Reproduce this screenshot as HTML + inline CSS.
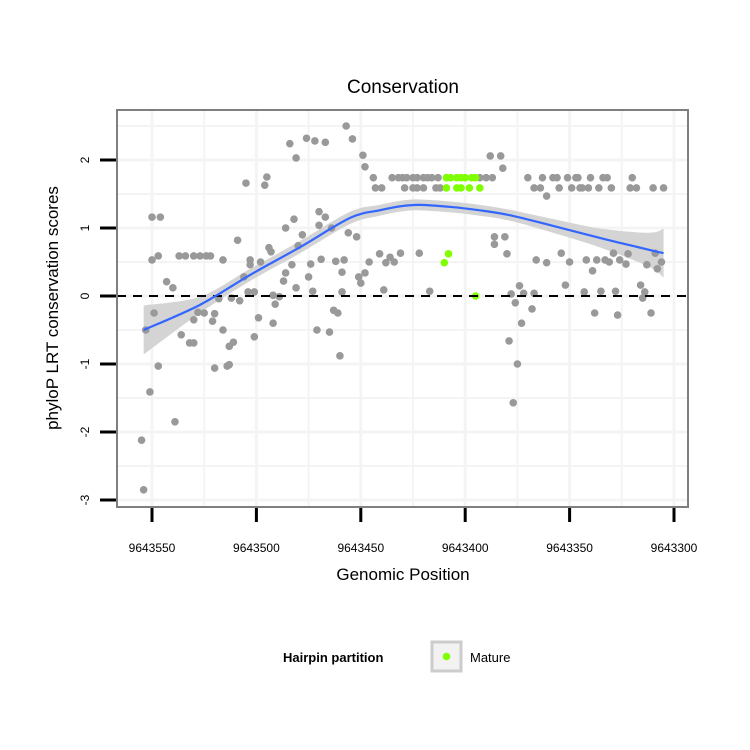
<!DOCTYPE html>
<html><head><meta charset="utf-8"><style>
body{margin:0;background:#fff}
svg{display:block;font-family:"Liberation Sans",sans-serif}
</style></head><body>
<svg id="chart" width="750" height="750"></svg>
<script>
const grayPos=[9643550,9643546,9643550,9643547,9643537,9643534,9643530,9643527,9643524,9643522,9643516,9643543,9643540,9643549,9643553,9643536,9643532,9643530,9643547,9643551,9643539,9643555,9643554,9643528,9643525,9643520,9643530,9643521,9643518,9643516,9643512,9643508,9643513,9643511,9643520,9643514,9643513,9643501,9643499,9643492,9643504,9643501,9643506,9643509,9643503,9643503,9643498,9643494,9643493,9643505,9643496,9643495,9643492,9643489,9643491,9643487,9643486,9643483,9643481,9643486,9643482,9643478,9643480,9643475,9643474,9643473,9643471,9643465,9643463,9643461,9643460,9643469,9643462,9643459,9643459,9643458,9643470,9643467,9643470,9643464,9643456,9643452,9643451,9643448,9643450,9643446,9643441,9643439,9643438,9643436,9643434,9643431,9643484,9643481,9643476,9643472,9643467,9643457,9643454,9643449,9643448,9643444,9643443,9643440,9643435,9643432,9643430,9643428,9643425,9643423,9643420,9643418,9643416,9643413,9643429,9643393,9643390,9643387,9643370,9643363,9643358,9643356,9643351,9643347,9643346,9643340,9643334,9643332,9643320,9643425,9643423,9643420,9643414,9643412,9643367,9643364,9643355,9643349,9643345,9643344,9643341,9643336,9643330,9643321,9643318,9643310,9643305,9643361,9643388,9643383,9643382,9643422,9643386,9643381,9643386,9643380,9643366,9643361,9643354,9643350,9643342,9643339,9643337,9643333,9643331,9643329,9643326,9643322,9643323,9643313,9643309,9643306,9643308,9643417,9643378,9643374,9643376,9643372,9643367,9643368,9643373,9643379,9643375,9643377,9643352,9643343,9643338,9643335,9643328,9643327,9643316,9643314,9643315,9643311];
const grayScore=[1.16,1.16,0.53,0.59,0.59,0.59,0.59,0.59,0.59,0.59,0.53,0.21,0.12,-0.25,-0.50,-0.57,-0.69,-0.69,-1.03,-1.41,-1.85,-2.12,-2.85,-0.24,-0.25,-0.26,-0.35,-0.37,-0.04,-0.50,-0.03,-0.07,-0.74,-0.68,-1.06,-1.03,-1.01,-0.60,-0.32,-0.40,0.06,0.06,0.28,0.82,0.46,0.53,0.50,0.71,0.65,1.66,1.63,1.75,0.01,-0.01,-0.12,0.22,0.34,0.46,0.12,1.00,1.13,0.90,0.74,0.28,0.47,0.07,-0.50,-0.53,-0.21,-0.25,-0.88,0.54,0.51,0.06,0.35,0.53,1.24,1.16,1.04,1.00,0.93,0.87,0.28,0.34,0.19,0.50,0.62,0.09,0.49,0.57,0.50,0.63,2.24,2.03,2.32,2.28,2.26,2.50,2.31,2.07,1.90,1.74,1.59,1.59,1.74,1.74,1.74,1.74,1.74,1.74,1.74,1.74,1.74,1.74,1.59,1.74,1.74,1.74,1.74,1.74,1.74,1.74,1.74,1.74,1.74,1.74,1.74,1.74,1.74,1.59,1.59,1.59,1.59,1.59,1.59,1.59,1.59,1.59,1.59,1.59,1.59,1.59,1.59,1.59,1.59,1.59,1.59,1.47,2.06,2.06,1.88,0.63,0.87,0.87,0.76,0.62,0.53,0.49,0.63,0.50,0.53,0.37,0.53,0.53,0.50,0.63,0.53,0.62,0.47,0.46,0.63,0.50,0.40,0.07,0.03,0.15,-0.10,0.04,0.04,-0.19,-0.40,-0.66,-1.00,-1.57,0.16,0.06,-0.25,0.07,0.07,-0.28,0.16,0.06,-0.03,-0.25];
const greenPos=[9643409,9643407,9643404,9643402,9643400,9643397,9643395,9643409,9643404,9643402,9643398,9643393,9643408,9643410,9643395];
const greenScore=[1.74,1.74,1.74,1.74,1.74,1.74,1.74,1.59,1.59,1.59,1.59,1.59,0.62,0.49,0.00];
const smoothPos=[9643554,9643527,9643503,9643479,9643455,9643441,9643431,9643422,9643407,9643393,9643379,9643359,9643335,9643312,9643305];
const smoothFit=[-0.50,-0.13,0.31,0.72,1.15,1.26,1.32,1.34,1.31,1.26,1.19,1.04,0.85,0.68,0.63];
const smoothSe=[0.36,0.12,0.09,0.09,0.09,0.08,0.08,0.08,0.08,0.08,0.08,0.10,0.14,0.25,0.36];
const xTicks=[9643550,9643500,9643450,9643400,9643350,9643300];
const yTicks=[-3,-2,-1,0,1,2];

const NS="http://www.w3.org/2000/svg";
const svg=document.getElementById('chart');
const L=117,R=688,T=110,B=507;
const X=v=>152+(9643550-v)*2.088;
const Y=v=>296-v*68;
function mk(tag,attrs,parent){const e=document.createElementNS(NS,tag);for(const k in attrs)e.setAttribute(k,attrs[k]);(parent||svg).appendChild(e);return e;}
function curve(pts,move){let d=(move?'M':'L')+pts[0][0]+','+pts[0][1];
 for(let i=0;i<pts.length-1;i++){const p0=pts[Math.max(0,i-1)],p1=pts[i],p2=pts[i+1],p3=pts[Math.min(pts.length-1,i+2)];
  const c1=[p1[0]+(p2[0]-p0[0])/6,p1[1]+(p2[1]-p0[1])/6],c2=[p2[0]-(p3[0]-p1[0])/6,p2[1]-(p3[1]-p1[1])/6];
  d+=` C${c1[0]},${c1[1]} ${c2[0]},${c2[1]} ${p2[0]},${p2[1]}`;}
 return d;}

let e=mk('rect',{x:L,y:T,width:R-L,height:B-T,fill:'#fff'});


for(let v=-3.5;v<=2.6;v+=0.5){const y=Y(v);if(y<T||y>B)continue;
 e=mk('line',{x1:L,x2:R,y1:y,y2:y,stroke:'#f4f4f4','stroke-width':Number.isInteger(v)?3:2});
 
 }
for(let v=9643575;v>=9643275;v-=25){const x=X(v);if(x<L||x>R)continue;
 e=mk('line',{x1:x,x2:x,y1:T,y2:B,stroke:'#f4f4f4','stroke-width':(v%50===0)?3:2});
 
 }
const upPts=smoothPos.map((p,i)=>[X(p),Y(smoothFit[i]+smoothSe[i])]);
const loPts=smoothPos.map((p,i)=>[X(p),Y(smoothFit[i]-smoothSe[i])]).reverse();
e=mk('path',{d:curve(upPts,true)+' '+curve(loPts,false)+' Z',fill:'#d4d4d4'});


grayPos.forEach((p,i)=>{const c=mk('circle',{cx:X(p),cy:Y(grayScore[i]),r:3.8,fill:'#999999'});
 
 });
greenPos.forEach((p,i)=>{const c=mk('circle',{cx:X(p),cy:Y(greenScore[i]),r:3.8,fill:'#7fff00'});
 
 });
e=mk('line',{x1:L,x2:R,y1:Y(0),y2:Y(0),stroke:'#000','stroke-width':2,'stroke-dasharray':'9,7'});


e=mk('path',{d:curve(smoothPos.map((p,i)=>[X(p),Y(smoothFit[i])]),true),fill:'none',stroke:'#3366ff','stroke-width':2.2});


e=mk('rect',{x:L,y:T,width:R-L,height:B-T,fill:'none',stroke:'#7f7f7f','stroke-width':2});


xTicks.forEach(v=>{const x=X(v);
 let t=mk('line',{x1:x,x2:x,y1:508,y2:522,stroke:'#000','stroke-width':3});
 
 
 let l=mk('text',{x:x,y:552,'font-size':12,'text-anchor':'middle',fill:'#000'});l.textContent=v;
 
 });
yTicks.forEach(v=>{const y=Y(v);
 let t=mk('line',{x1:100,x2:116,y1:y,y2:y,stroke:'#000','stroke-width':3});
 
 
 let l=mk('text',{x:0,y:0,'font-size':12,'text-anchor':'middle',fill:'#000',transform:`translate(89,${y}) rotate(-90)`});l.textContent=v;
 
 });
</script>
<script>
(function(){
const NS="http://www.w3.org/2000/svg",svg=document.getElementById('chart');
function t(x,y,txt,attrs,name){const e=document.createElementNS(NS,'text');e.setAttribute('x',x);e.setAttribute('y',y);for(const k in attrs)e.setAttribute(k,attrs[k]);e.textContent=txt;svg.appendChild(e);

return e;}
t(403,93,'Conservation',{'font-size':19,'text-anchor':'middle'},'chart-title');
t(403,580,'Genomic Position',{'font-size':17,'text-anchor':'middle'},'x-axis-title');
t(0,0,'phyloP LRT conservation scores',{'font-size':17,'text-anchor':'middle',transform:'translate(58,308) rotate(-90)'},'y-axis-title');
t(283,662,'Hairpin partition',{'font-size':13,'font-weight':'bold'},'legend-title');
const r=document.createElementNS(NS,'rect');r.setAttribute('x',432);r.setAttribute('y',642);r.setAttribute('width',29);r.setAttribute('height',29);r.setAttribute('fill','#f2f2f2');r.setAttribute('stroke','#cccccc');r.setAttribute('stroke-width',3);svg.appendChild(r);


const c=document.createElementNS(NS,'circle');c.setAttribute('cx',446.5);c.setAttribute('cy',656.5);c.setAttribute('r',3.8);c.setAttribute('fill','#7fff00');svg.appendChild(c);


t(470,662,'Mature',{'font-size':13},'legend-label-mature');
})();
</script>
</body></html>
